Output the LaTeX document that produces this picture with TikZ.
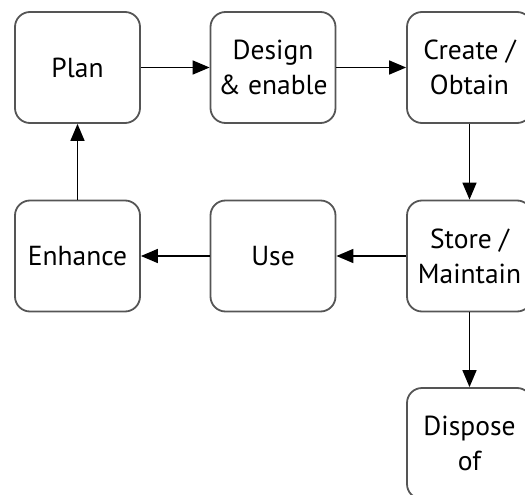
\documentclass[tikz,border=0pt]{standalone}
\usepackage{fontspec}
\setmainfont{PT Sans}
\usetikzlibrary{arrows.meta}
\definecolor{boxline}{HTML}{555555}
\tikzset{
  stage/.style={draw=boxline, line width=1.8pt, rounded corners=15pt,
    minimum width=125pt, minimum height=111pt, align=center,
    font=\fontsize{27.5}{35}\selectfont, inner sep=0pt},
  flow/.style={line width=1.6pt, -{Triangle[length=17pt,width=14pt]}}
}
\begin{document}
\begin{tikzpicture}[x=1pt, y=-1pt]
  \useasboundingbox (0,0) rectangle (525,495);
  \clip (0,0) rectangle (525,495);
  \node[stage] (plan)    at (77.5,67.5)  {Plan};
  \node[stage] (design)  at (273,67.5)   {Design\\\& enable};
  \node[stage] (create)  at (469.5,67.5) {Create /\\Obtain};
  \node[stage] (enhance) at (77.5,256)   {Enhance};
  \node[stage] (use)     at (273,256)    {Use};
  \node[stage] (store)   at (469.5,256)  {Store /\\Maintain};
  \node[stage] (dispose) at (469.5,443.5) {Dispose\\of};
  \draw[flow] (plan) -- (design);
  \draw[flow] (design) -- (create);
  \draw[flow] (create) -- (store);
  \draw[flow] (store) -- (use);
  \draw[flow] (use) -- (enhance);
  \draw[flow] (enhance) -- (plan);
  \draw[flow] (store) -- (dispose);
\end{tikzpicture}
\end{document}
